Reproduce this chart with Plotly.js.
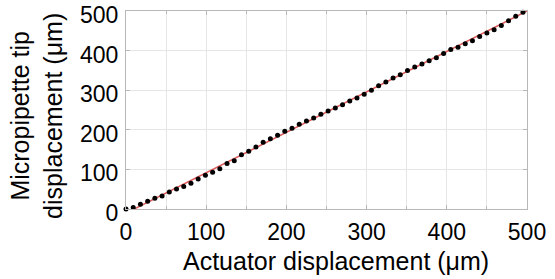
<!DOCTYPE html>
<html>
<head>
<meta charset="utf-8">
<script src="https://cdn.plot.ly/plotly-3.0.1.min.js"></script>
<style>html,body{margin:0;padding:0;background:#fff;}#chart{width:555px;height:279px;}</style>
</head>
<body>
<div id="chart"></div>
<script>
// Measured data: actuator displacement (x, µm) vs micropipette tip displacement (y, µm)
const actuatorX = [0, 9, 18, 27, 36, 45, 54, 63, 72, 81, 90, 99, 108, 117, 126, 135, 144, 153, 162, 171,
  180, 189, 198, 207, 216, 225, 234, 243, 252, 261, 270, 279, 288, 297, 306, 315, 324, 333, 342, 351,
  360, 369, 378, 387, 396, 405, 414, 423, 432, 441, 450, 459, 468, 477, 486, 495];
const tipY = [0, 4, 11.7, 19.3, 27, 33, 43, 50.6, 57, 65, 76, 85, 93, 101.5, 115, 121.7, 137, 146, 156.5, 168.5,
  177.7, 186, 196.3, 204, 214, 222, 229.5, 239, 247.5, 255, 263, 273, 280.4, 289.6, 300, 311.5, 320.4, 330.5, 339, 350,
  358.5, 366, 374.6, 382, 392.4, 402.5, 408.6, 417, 424.7, 435.6, 444.3, 452.7, 463.6, 475.6, 486.5, 496.7];
// Linear fit line
const fitX = [0, 500];
const fitY = [-10.5, 500];
const xTicks = [0, 100, 200, 300, 400, 500];
const yTicks = [0, 100, 200, 300, 400, 500];

const axisFont = {family: 'Liberation Sans, Arial, sans-serif', size: 23, color: '#000'};
const titleFont = {family: 'Liberation Sans, Arial, sans-serif', size: 25, color: '#000'};

const traces = [
  {x: fitX, y: fitY, mode: 'lines', line: {color: '#e05a5a', width: 1.5}, hoverinfo: 'skip', showlegend: false},
  {x: actuatorX, y: tipY, mode: 'markers', marker: {color: '#000', size: 5}, cliponaxis: false, showlegend: false}
];

const layout = {
  width: 555, height: 279,
  margin: {l: 126, r: 28, t: 11, b: 70},
  paper_bgcolor: '#fff', plot_bgcolor: '#fff',
  showlegend: false,
  xaxis: {
    range: [0, 500], tickvals: xTicks, ticktext: xTicks.map(String),
    showgrid: true, gridcolor: '#e6e6e6', gridwidth: 1,
    minor: {dtick: 50, tick0: 0, showgrid: true, gridcolor: '#e6e6e6', ticks: 'inside', ticklen: 3, tickcolor: '#b8b8b8'},
    showline: true, linecolor: '#b8b8b8', linewidth: 1, mirror: 'ticks',
    ticks: 'inside', ticklen: 4, tickcolor: '#b8b8b8',
    zeroline: false, tickfont: axisFont, ticklabelstandoff: 2, ticklabeloverflow: 'allow'
  },
  yaxis: {
    range: [0, 500], tickvals: yTicks, ticktext: yTicks.map(String),
    showgrid: true, gridcolor: '#e6e6e6', gridwidth: 1,
    showline: true, linecolor: '#b8b8b8', linewidth: 1, mirror: 'ticks',
    ticks: 'inside', ticklen: 4, tickcolor: '#b8b8b8',
    zeroline: false, tickfont: axisFont, ticklabelstandoff: 2, ticklabelshift: 4, ticklabeloverflow: 'allow'
  },
  annotations: [
    {text: 'Actuator displacement (μm)', xref: 'paper', yref: 'paper', x: 0.523, y: -0.263,
     xanchor: 'center', yanchor: 'middle', showarrow: false, font: titleFont},
    {text: 'Micropipette tip<br>displacement (μm)', xref: 'paper', yref: 'paper', x: -0.222, y: 0.47,
     xanchor: 'center', yanchor: 'middle', textangle: -90, showarrow: false, font: titleFont}
  ]
};

Plotly.newPlot('chart', traces, layout, {displayModeBar: false, staticPlot: true});
</script>
</body>
</html>
